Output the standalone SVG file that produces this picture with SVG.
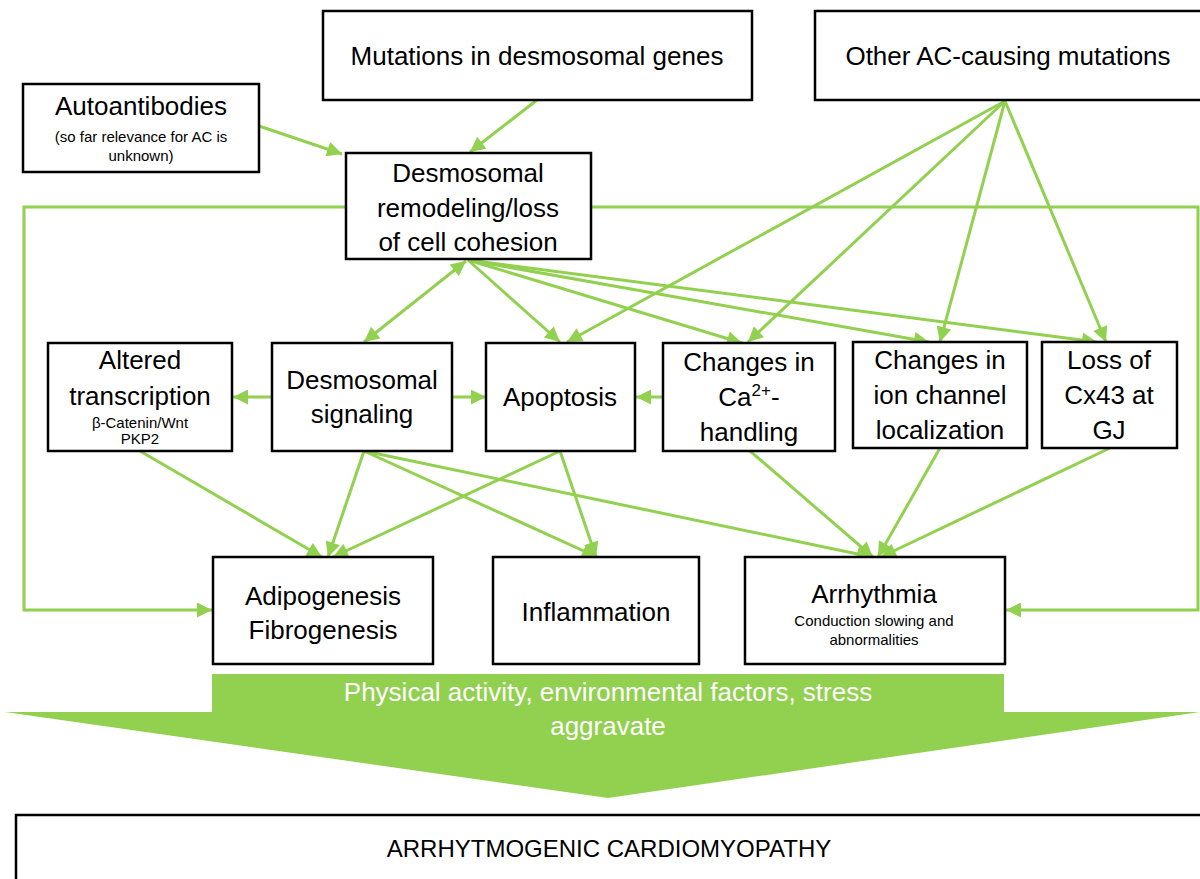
<svg xmlns="http://www.w3.org/2000/svg" width="1200" height="879" viewBox="0 0 1200 879">
<style>
.box{fill:#fff;stroke:#000;stroke-width:2.5}
.t{font-family:"Liberation Sans",Arial,sans-serif;font-size:26px;fill:#000;text-anchor:middle}
.s{font-family:"Liberation Sans",Arial,sans-serif;font-size:15px;fill:#000;text-anchor:middle}
.w{font-family:"Liberation Sans",Arial,sans-serif;font-size:26px;fill:#fff;text-anchor:middle}
.c{fill:none;stroke:#92D050;stroke-width:3}
</style>
<defs>
<marker id="ah" viewBox="0 0 10 10" refX="10" refY="5" markerUnits="userSpaceOnUse" markerWidth="17" markerHeight="15" orient="auto-start-reverse">
<path d="M0,0 L10,5 L0,10 z" fill="#92D050"/>
</marker>
</defs>
<rect width="1200" height="879" fill="#fff"/>

<g id="bigarrow">
<polygon points="212,674 1004,674 1004,712 1200,712 608,798 5,712 212,712" fill="#92D050"/>
<text class="w" x="608" y="701">Physical activity, environmental factors, stress</text>
<text class="w" x="608" y="735">aggravate</text>
</g>

<g id="connectors">
<path class="c" d="M346,207 H24 V610 H212" marker-end="url(#ah)"/>
<path class="c" d="M591,207 H1198 V610 H1006" marker-end="url(#ah)"/>
<path class="c" d="M537,100 L470,152" marker-end="url(#ah)"/>
<path class="c" d="M259,126 L342,154" marker-end="url(#ah)"/>
<path class="c" d="M1005,101 L567,342" marker-end="url(#ah)"/>
<path class="c" d="M1005,101 L748,342" marker-end="url(#ah)"/>
<path class="c" d="M1005,101 L940,342" marker-end="url(#ah)"/>
<path class="c" d="M1005,101 L1106,342" marker-end="url(#ah)"/>
<path class="c" d="M466,261 L364,342" marker-start="url(#ah)" marker-end="url(#ah)"/>
<path class="c" d="M468,260 L560,342" marker-end="url(#ah)"/>
<path class="c" d="M468,260 L742,343" marker-end="url(#ah)"/>
<path class="c" d="M468,260 L929,342" marker-end="url(#ah)"/>
<path class="c" d="M468,260 L1097,342" marker-end="url(#ah)"/>
<path class="c" d="M272,397 L233,397" marker-end="url(#ah)"/>
<path class="c" d="M452,397 L486,397" marker-end="url(#ah)"/>
<path class="c" d="M663,397 L636,397" marker-end="url(#ah)"/>
<path class="c" d="M140,451 L322,557" marker-end="url(#ah)"/>
<path class="c" d="M364,451 L328,557" marker-end="url(#ah)"/>
<path class="c" d="M364,451 L597,557" marker-end="url(#ah)"/>
<path class="c" d="M364,451 L872,557" marker-end="url(#ah)"/>
<path class="c" d="M560,451 L333,557" marker-end="url(#ah)"/>
<path class="c" d="M560,451 L596,557" marker-end="url(#ah)"/>
<path class="c" d="M750,451 L873,557" marker-end="url(#ah)"/>
<path class="c" d="M940,448 L878,557" marker-end="url(#ah)"/>
<path class="c" d="M1110,448 L881,557" marker-end="url(#ah)"/>
</g>

<g id="mutations">
<rect class="box" x="323" y="11" width="429" height="89"/>
<text class="t" x="537" y="65">Mutations in desmosomal genes</text>
</g>
<g id="other">
<rect class="box" x="815" y="11" width="400" height="89"/>
<text class="t" x="1008" y="65">Other AC-causing mutations</text>
</g>
<g id="autoantibodies">
<rect class="box" x="23" y="84" width="236" height="88"/>
<text class="t" x="141" y="115">Autoantibodies</text>
<text class="s" x="141" y="142">(so far relevance for AC is</text>
<text class="s" x="141" y="161">unknown)</text>
</g>
<g id="remodeling">
<rect class="box" x="346" y="153" width="245" height="106"/>
<text class="t" x="468" y="182">Desmosomal</text>
<text class="t" x="468" y="217">remodeling/loss</text>
<text class="t" x="468" y="251">of cell cohesion</text>
</g>
<g id="transcription">
<rect class="box" x="48" y="343" width="184" height="108"/>
<text class="t" x="140" y="369">Altered</text>
<text class="t" x="140" y="405">transcription</text>
<text class="s" x="140" y="428">β-Catenin/Wnt</text>
<text class="s" x="140" y="444">PKP2</text>
</g>
<g id="signaling">
<rect class="box" x="272" y="343" width="180" height="108"/>
<text class="t" x="362" y="389">Desmosomal</text>
<text class="t" x="362" y="423">signaling</text>
</g>
<g id="apoptosis">
<rect class="box" x="486" y="343" width="149" height="108"/>
<text class="t" x="560" y="406">Apoptosis</text>
</g>
<g id="calcium">
<rect class="box" x="663" y="343" width="172" height="108"/>
<text class="t" x="749" y="371">Changes in</text>
<text class="t" x="749" y="406">Ca<tspan style="font-size:17px" dy="-10">2+</tspan><tspan dy="10">-</tspan></text>
<text class="t" x="749" y="441">handling</text>
</g>
<g id="ionchannel">
<rect class="box" x="853" y="342" width="174" height="106"/>
<text class="t" x="940" y="369">Changes in</text>
<text class="t" x="940" y="404">ion channel</text>
<text class="t" x="940" y="439">localization</text>
</g>
<g id="cx43">
<rect class="box" x="1042" y="342" width="135" height="106"/>
<text class="t" x="1109" y="369">Loss of</text>
<text class="t" x="1109" y="404">Cx43 at</text>
<text class="t" x="1109" y="439">GJ</text>
</g>
<g id="adipogenesis">
<rect class="box" x="213" y="557" width="220" height="107"/>
<text class="t" x="323" y="605">Adipogenesis</text>
<text class="t" x="323" y="639">Fibrogenesis</text>
</g>
<g id="inflammation">
<rect class="box" x="493" y="557" width="206" height="107"/>
<text class="t" x="596" y="621">Inflammation</text>
</g>
<g id="arrhythmia">
<rect class="box" x="745" y="557" width="260" height="107"/>
<text class="t" x="874" y="603">Arrhythmia</text>
<text class="s" x="874" y="626">Conduction slowing and</text>
<text class="s" x="874" y="645">abnormalities</text>
</g>
<g id="cardiomyopathy">
<rect class="box" x="16" y="815" width="1200" height="80"/>
<text class="t" x="609" y="857" style="font-size:24px">ARRHYTMOGENIC CARDIOMYOPATHY</text>
</g>
</svg>
